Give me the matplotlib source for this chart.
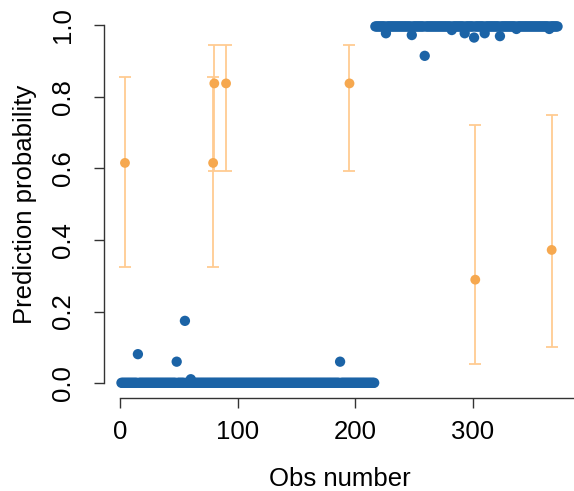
import matplotlib
matplotlib.use("Agg")
import matplotlib.pyplot as plt
import numpy as np

plt.rcParams['font.family'] = ['Liberation Sans', 'DejaVu Sans']

# ---- data ----
n_low = 216            # observations predicted near 0 (obs 1..216)
n_high = 156           # observations predicted near 1 (obs 217..372)
low_base = 0.001
high_base = 0.996

low_outlier_obs = [15, 48, 55, 60, 187]
low_outlier_val = [0.081, 0.060, 0.174, 0.011, 0.060]

high_outlier_obs = [226, 248, 259, 282, 293, 301, 310, 323, 337, 365]
high_outlier_val = [0.977, 0.972, 0.914, 0.986, 0.977, 0.965, 0.977, 0.969, 0.989, 0.989]

orange_obs = [4, 79, 80, 90, 195, 302, 367]
orange_val = [0.615, 0.615, 0.837, 0.837, 0.837, 0.289, 0.372]
orange_lo = [0.323, 0.323, 0.592, 0.592, 0.592, 0.053, 0.100]
orange_hi = [0.854, 0.854, 0.944, 0.944, 0.944, 0.722, 0.750]

x_ticks = [0, 100, 200, 300]
y_ticks = [0.0, 0.2, 0.4, 0.6, 0.8, 1.0]

# ---- assemble blue series ----
obs = np.arange(1, n_low + n_high + 1)
pred = np.concatenate([np.full(n_low, low_base), np.full(n_high, high_base)])
for o, v in zip(low_outlier_obs, low_outlier_val):
    pred[o - 1] = v
for o, v in zip(high_outlier_obs, high_outlier_val):
    pred[o - 1] = v

blue = '#1B63A6'
orange = '#F6A84F'
orange_light = '#FFCB92'

fig = plt.figure(figsize=(5.74, 4.91), dpi=100)
ax = fig.add_axes([104 / 574, (491 - 397.5) / 491, (575 - 104) / 574, (397.5 - 10.7) / 491])

ax.scatter(obs, pred, s=55, color=blue, edgecolors='none', zorder=2)

ov = np.array(orange_val)
yerr = np.vstack([ov - np.array(orange_lo), np.array(orange_hi) - ov])
ax.errorbar(orange_obs, orange_val, yerr=yerr, fmt='none', ecolor=orange_light,
            elinewidth=1.3, capsize=4.5, capthick=1.3, zorder=3)
ax.scatter(orange_obs, orange_val, s=50, color=orange, edgecolors='none', zorder=4)

ax.set_xticks(x_ticks)
ax.set_xticklabels([str(t) for t in x_ticks])
ax.set_yticks(y_ticks)
ax.set_yticklabels([f"{t:.1f}" for t in y_ticks], rotation=90, va='center')

n = n_low + n_high
pad = (n - 1) * 0.04
ax.set_xlim(1 - pad, n + pad)
ax.set_ylim(-0.04, 1.04)

for s in ['top', 'right']:
    ax.spines[s].set_visible(False)
ax.spines['left'].set_bounds(0, 1)
ax.spines['bottom'].set_bounds(0, 400)
ax.spines['bottom'].set_clip_on(False)
for s in ['left', 'bottom']:
    ax.spines[s].set_linewidth(1.0)
    ax.spines[s].set_color('#333333')

ax.tick_params(axis='both', length=7, width=1.0, color='#333333', labelsize=18.5)
ax.tick_params(axis='x', pad=9)
ax.tick_params(axis='y', pad=14)

ax.set_xlabel('Obs number', fontsize=18.5, labelpad=17)
ax.set_ylabel('Prediction probability', fontsize=18.5, labelpad=10)

fig.savefig('out.png', dpi=100)
